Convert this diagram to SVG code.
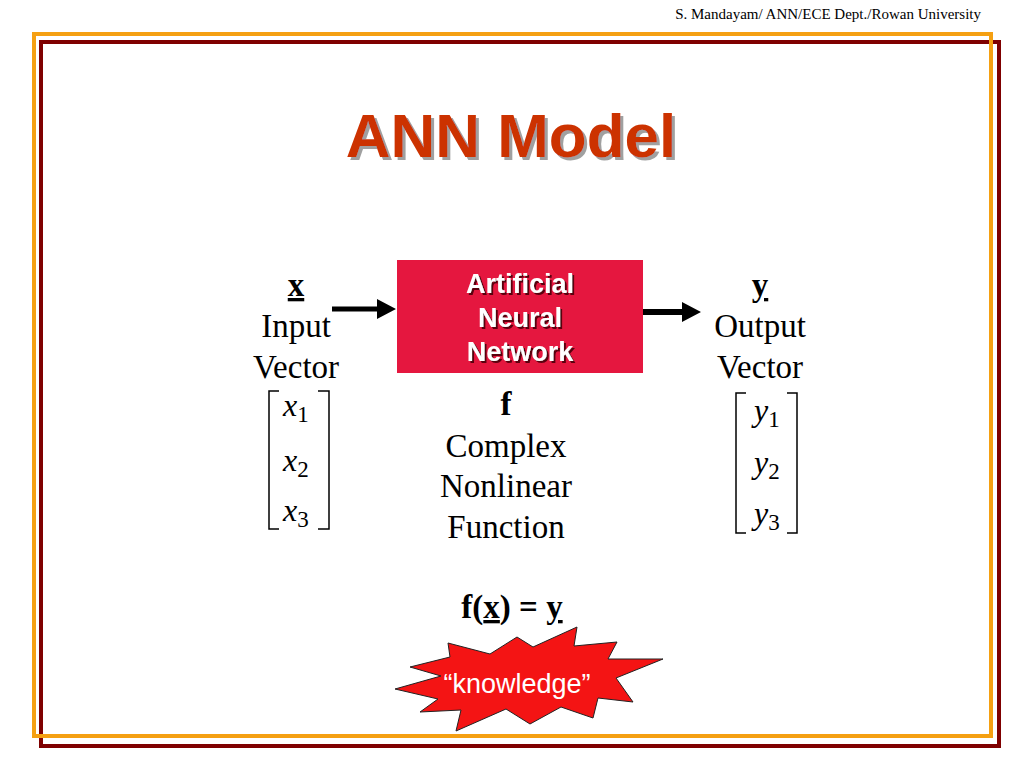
<svg xmlns="http://www.w3.org/2000/svg" width="1024" height="768" viewBox="0 0 1024 768">
<defs>
<filter id="tshadow" x="-10%" y="-10%" width="120%" height="130%">
<feOffset in="SourceAlpha" dx="3" dy="3" result="o"/>
<feFlood flood-color="#a0a0a0"/>
<feComposite operator="in" in2="o" result="s"/>
<feMerge><feMergeNode in="s"/><feMergeNode in="SourceGraphic"/></feMerge>
</filter>
<filter id="bshadow" x="-10%" y="-10%" width="120%" height="130%">
<feOffset in="SourceAlpha" dx="2" dy="2" result="o"/>
<feFlood flood-color="#5a0010"/>
<feComposite operator="in" in2="o" result="s"/>
<feMerge><feMergeNode in="s"/><feMergeNode in="SourceGraphic"/></feMerge>
</filter>
<style>
.serif{font-family:"Liberation Serif","Times New Roman",serif;fill:#000}
.sans{font-family:"Liberation Sans",Arial,sans-serif}
.lbl{font-size:33px;text-anchor:middle}
.bold{font-weight:bold}
.it{font-style:italic;font-size:32px}
.sub{font-size:23px;font-style:normal}
.br{fill:none;stroke:#000;stroke-width:1.5}
.box{font-size:27px;font-weight:bold;text-anchor:middle;fill:#fff}
</style>
</defs>
<rect width="1024" height="768" fill="#fff"/>
<text class="serif" x="981" y="19" font-size="15" text-anchor="end">S. Mandayam/ ANN/ECE Dept./Rowan University</text>
<g id="frame">
<rect x="41" y="42" width="958" height="704" fill="none" stroke="#7f0000" stroke-width="4"/>
<rect x="34" y="34" width="957" height="702" fill="none" stroke="#f5a012" stroke-width="4"/>
</g>
<g id="title">
<text class="sans" x="511" y="157" font-size="62" font-weight="bold" text-anchor="middle" fill="#cc3300" filter="url(#tshadow)">ANN Model</text>
</g>
<g id="ann">
<rect x="397" y="260" width="246" height="113" fill="#e5173f"/>
<g class="sans box" filter="url(#bshadow)">
<text x="520" y="293">Artificial</text>
<text x="520" y="327">Neural</text>
<text x="520" y="361">Network</text>
</g>
</g>
<g id="connectors" fill="#000">
<polygon points="332,306.5 377,306.5 377,299 396,309 377,319 377,311.5 332,311.5"/>
<polygon points="643,309 682,309 682,302 701,312 682,322 682,315 643,315"/>
</g>
<g id="input">
<text class="serif lbl bold" x="296" y="296" text-decoration="underline">x</text>
<text class="serif lbl" x="296" y="337">Input</text>
<text class="serif lbl" x="296" y="378">Vector</text>
<path class="br" d="M279,391 H269 V529 H279 M318,391 H329 V529 H318"/>
<text class="serif it" x="283" y="416">x<tspan class="sub" dy="6">1</tspan></text>
<text class="serif it" x="283" y="471">x<tspan class="sub" dy="6">2</tspan></text>
<text class="serif it" x="283" y="521">x<tspan class="sub" dy="6">3</tspan></text>
</g>
<g id="output">
<text class="serif lbl bold" x="760" y="296" text-decoration="underline">y</text>
<text class="serif lbl" x="760" y="337">Output</text>
<text class="serif lbl" x="760" y="378">Vector</text>
<path class="br" d="M746,393 H736 V533 H746 M787,393 H797 V533 H787"/>
<text class="serif it" x="754" y="421">y<tspan class="sub" dy="6">1</tspan></text>
<text class="serif it" x="754" y="473">y<tspan class="sub" dy="6">2</tspan></text>
<text class="serif it" x="754" y="524">y<tspan class="sub" dy="6">3</tspan></text>
</g>
<g id="function">
<text class="serif lbl bold" x="506" y="415">f</text>
<text class="serif lbl" x="506" y="457">Complex</text>
<text class="serif lbl" x="506" y="497">Nonlinear</text>
<text class="serif lbl" x="506" y="538">Function</text>
</g>
<g id="equation">
<text class="serif bold" x="512" y="618" font-size="33" text-anchor="middle">f(<tspan text-decoration="underline">x</tspan>) = <tspan text-decoration="underline">y</tspan></text>
</g>
<g id="knowledge">
<polygon points="395,689 441,676 410,667 450,657 448,643 490,654 517,637 533,647 577,627 574,646 617,642 608,659 663,659 616,678 633,702 598,698 593,718 561,707 530,724 506,709 456,731 461,710 420,712 438,699" fill="#f41414" stroke="#222" stroke-width="1"/>
<text class="sans" x="517" y="693" font-size="27" fill="#fff" text-anchor="middle">“knowledge”</text>
</g>
</svg>
